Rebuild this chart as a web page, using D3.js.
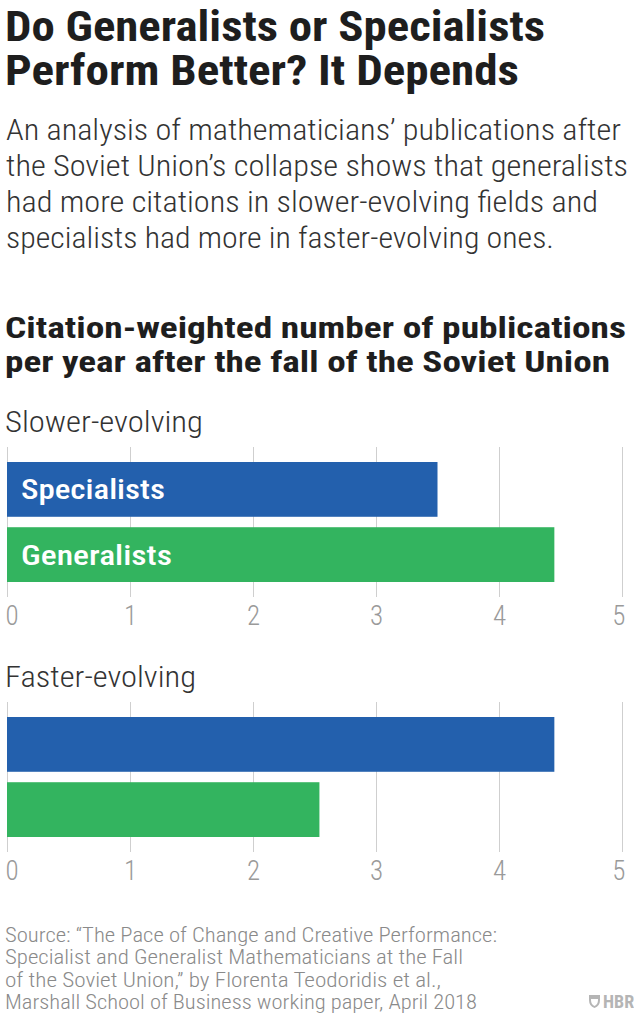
<!DOCTYPE html>
<html>
<head>
<meta charset="utf-8">
<script src="https://cdn.jsdelivr.net/npm/d3@7"></script>
<style>
  body { margin: 0; background: #fff; }
  svg { display: block; }
  text { font-family: 'Roboto Condensed', 'Liberation Sans Narrow', 'DejaVu Sans Condensed', Roboto, sans-serif; }
</style>
</head>
<body>
<svg id="chart" width="634" height="1024"></svg>
<script>
'use strict';

// data
const groups = ['Slower-evolving', 'Faster-evolving'];
const seriesNames = ['Specialists', 'Generalists'];
const specialists = [3.5, 4.45];
const generalists = [4.45, 2.54];
const tickValues = [0, 1, 2, 3, 4, 5];

const titleLines = ['Do Generalists or Specialists', 'Perform Better? It Depends'];
const subtitleLines = [
    'An analysis of mathematicians\u2019 publications after',
    'the Soviet Union\u2019s collapse shows that generalists',
    'had more citations in slower-evolving fields and',
    'specialists had more in faster-evolving ones.'
];
const chartTitleLines = [
    'Citation-weighted number of publications',
    'per year after the fall of the Soviet Union'
];
const sourceLines = [
    'Source: \u201cThe Pace of Change and Creative Performance:',
    'Specialist and Generalist Mathematicians at the Fall',
    'of the Soviet Union,\u201d by Florenta Teodoridis et al.,',
    'Marshall School of Business working paper, April 2018'
];

const colors = {Specialists: '#2360ad', Generalists: '#33b45f'};

const svg = d3.select('#chart');

// draws lines of text, squeezing each to a measured width
function textBlock(lines, opts) {
    svg.append('g')
        .selectAll('text')
        .data(lines)
        .join('text')
        .attr('x', opts.x)
        .attr('y', (d, i) => opts.y + i * opts.lineHeight)
        .attr('font-size', opts.size)
        .attr('font-weight', opts.weight || 400)
        .attr('fill', opts.color)
        .attr('textLength', (d, i) => opts.widths ? opts.widths[i] : null)
        .attr('lengthAdjust', 'spacingAndGlyphs')
        .text(d => d);
}

textBlock(titleLines, {x: 5, y: 41, lineHeight: 44, size: 42, weight: 700, color: '#1e1e1e', widths: [540, 514]});
textBlock(subtitleLines, {x: 6, y: 140, lineHeight: 36, size: 30, weight: 300, color: '#333', widths: [615, 622, 592, 548]});
textBlock(chartTitleLines, {x: 5, y: 338, lineHeight: 34, size: 30, weight: 700, color: '#1e1e1e', widths: [621, 605]});
textBlock(sourceLines, {x: 5, y: 942, lineHeight: 22.4, size: 20, weight: 300, color: '#8a8a8a', widths: [492, 458, 436, 472]});

const x = d3.scaleLinear().domain([0, 5]).range([7, 622]);

const panels = [
    {name: groups[0], top: 447, values: [specialists[0], generalists[0]], labelWidth: 198, showNames: true},
    {name: groups[1], top: 702, values: [specialists[1], generalists[1]], labelWidth: 191, showNames: false}
];

panels.forEach(p => {
    const g = svg.append('g').attr('transform', `translate(0,${p.top})`);
    const y = d3.scaleBand().domain(seriesNames).range([15, 135]).paddingInner(0.16);

    g.append('text')
        .attr('x', 5)
        .attr('y', -15)
        .attr('font-size', 30)
        .attr('font-weight', 300)
        .attr('fill', '#333')
        .attr('textLength', p.labelWidth)
        .attr('lengthAdjust', 'spacingAndGlyphs')
        .text(p.name);

    // grid lines + tick labels from the axis
    const axis = d3.axisBottom(x).tickValues(tickValues).tickSize(150).tickFormat(d3.format('d'));
    const ax = g.append('g').call(axis);
    ax.select('.domain').remove();
    ax.selectAll('.tick line').attr('stroke', '#cfcfcf').attr('stroke-width', 1);
    ax.selectAll('.tick text')
        .attr('y', 178)
        .attr('dy', 0)
        .attr('font-size', 27)
        .attr('font-weight', 300)
        .attr('fill', '#9a9a9a')
        .attr('font-family', null)
        .attr('text-anchor', (d, i) => i === 0 ? 'start' : (i === tickValues.length - 1 ? 'end' : 'middle'))
        .attr('dx', (d, i) => i === 0 ? -2 : (i === tickValues.length - 1 ? 3 : 0));

    const rows = seriesNames.map((s, i) => ({series: s, value: p.values[i]}));

    g.selectAll('rect.bar')
        .data(rows)
        .join('rect')
        .attr('class', 'bar')
        .attr('x', x(0))
        .attr('y', d => y(d.series))
        .attr('width', d => x(d.value) - x(0))
        .attr('height', y.bandwidth())
        .attr('fill', d => colors[d.series]);

    if (p.showNames) {
        g.selectAll('text.bar-label')
            .data(rows)
            .join('text')
            .attr('class', 'bar-label')
            .attr('x', x(0) + 14)
            .attr('y', d => y(d.series) + y.bandwidth() / 2)
            .attr('dy', '0.36em')
            .attr('font-size', 28)
            .attr('font-weight', 500)
            .attr('fill', '#fff')
            .attr('textLength', d => d.series === 'Specialists' ? 144 : 151)
            .attr('lengthAdjust', 'spacingAndGlyphs')
            .text(d => d.series);
    }
});

// HBR mark
const logo = svg.append('g').attr('transform', 'translate(589,1001)').attr('fill', '#b5b5b5');
logo.append('path')
    .attr('d', 'M0,-6 L11,-6 L11,-1 Q11,5 5.5,7 Q0,5 0,-1 Z M2,-2 L9,-2 L9,-1 Q9,3.5 5.5,5 Q2,3.5 2,-1 Z')
    .attr('fill-rule', 'evenodd');
logo.append('text')
    .attr('x', 14)
    .attr('y', 7)
    .attr('font-size', 18)
    .attr('font-weight', 700)
    .attr('font-family', 'Roboto, sans-serif')
    .text('HBR');
</script>
</body>
</html>
